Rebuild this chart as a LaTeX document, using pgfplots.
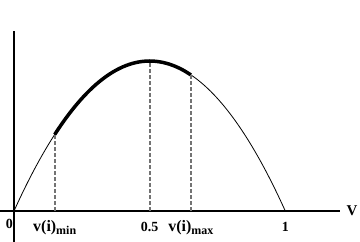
\documentclass[border=0pt]{standalone}
\usepackage{fontspec}
\setmainfont{Liberation Serif}
\usepackage{pgfplots}
\pgfplotsset{compat=1.18}
\newcommand{\vi}[1]{{\fontsize{16}{18}\selectfont v(i)}\raisebox{-3bp}{\fontsize{12}{12}\selectfont #1}}
\begin{document}
\begin{tikzpicture}
\begin{axis}[
  scale only axis,
  width=340bp, height=211bp,
  xmin=-0.0516, xmax=1.2016,
  ymin=-0.2067, ymax=1.2,
  axis lines=middle,
  axis line style={-, line width=1.4bp, black},
  ytick=\empty,
  xtick={0.15,0.5,0.652,1},
  xticklabels={{\vi{min}},{0.5},{\vi{max}},{1}},
  major tick length=0pt,
  xticklabel style={font=\fontsize{14}{16}\selectfont\bfseries, anchor=base, yshift=-21bp, inner sep=0pt},
  clip=false,
]
% thin full curve
\addplot[black, line width=0.8bp, smooth] coordinates {
(0,0) (0.025,0.0975) (0.05,0.19) (0.075,0.2775) (0.1,0.36) (0.125,0.4375)
(0.15,0.51) (0.175,0.5775) (0.2,0.64) (0.225,0.6975) (0.25,0.75) (0.275,0.7975)
(0.3,0.84) (0.325,0.8775) (0.35,0.91) (0.375,0.9375) (0.4,0.96) (0.425,0.9775)
(0.45,0.99) (0.475,0.9975) (0.5,1) (0.525,0.9975) (0.55,0.99) (0.575,0.9775)
(0.6,0.96) (0.625,0.9375) (0.65,0.91) (0.675,0.8775) (0.7,0.84) (0.725,0.7975)
(0.75,0.75) (0.775,0.6975) (0.8,0.64) (0.825,0.5775) (0.85,0.51) (0.875,0.4375)
(0.9,0.36) (0.925,0.2775) (0.95,0.19) (0.975,0.0975) (1,0)
};
% thick segment
\addplot[black, line width=3.5bp, smooth] coordinates {
(0.15,0.51) (0.175,0.5775) (0.2,0.64) (0.225,0.6975) (0.25,0.75) (0.275,0.7975)
(0.3,0.84) (0.325,0.8775) (0.35,0.91) (0.375,0.9375) (0.4,0.96) (0.425,0.9775)
(0.45,0.99) (0.475,0.9975) (0.5,1) (0.525,0.9975) (0.55,0.99) (0.575,0.9775)
(0.6,0.96) (0.625,0.9375) (0.652,0.9074)
};
% dashed verticals
\addplot[black!55, line width=1.8bp, dash pattern=on 3.5bp off 2.5bp] coordinates {(0.15,0) (0.15,0.51)};
\addplot[black!55, line width=1.8bp, dash pattern=on 3.5bp off 2.5bp] coordinates {(0.5,0) (0.5,1)};
\addplot[black!55, line width=1.8bp, dash pattern=on 3.5bp off 2.5bp] coordinates {(0.652,0) (0.652,0.9074)};
\node[font=\fontsize{14}{16}\selectfont\bfseries, anchor=base, inner sep=0pt] at (axis cs:-0.0175,-0.12) {0};
\node[font=\fontsize{15}{16}\selectfont\bfseries, anchor=center, inner sep=0pt] at (axis cs:1.246,0) {V};
\end{axis}
\pgfresetboundingbox
\useasboundingbox (current axis.south west) rectangle ++(360bp,242bp);
\end{tikzpicture}
\end{document}
